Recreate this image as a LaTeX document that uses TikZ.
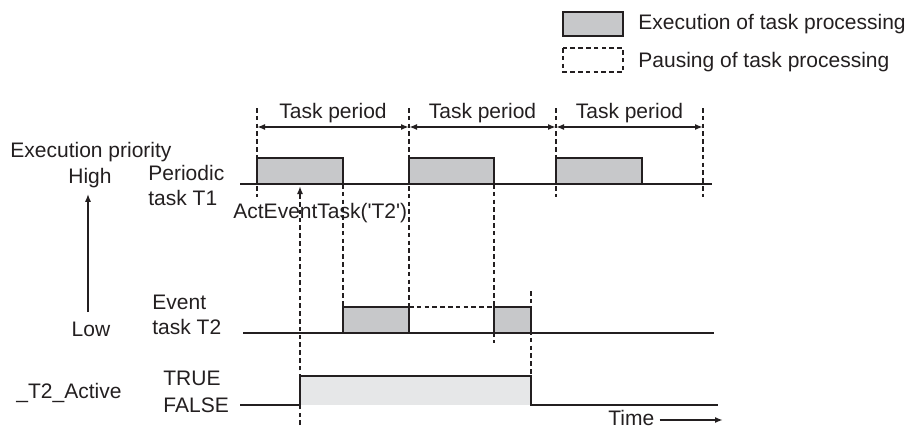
\documentclass[tikz,border=0pt]{standalone}
\usepackage{fontspec}
\setmainfont{Liberation Sans}
\usetikzlibrary{positioning,arrows.meta,calc}
\definecolor{cInk}{HTML}{231F20}
\definecolor{cRun}{HTML}{C7C8CA}
\definecolor{cActive}{HTML}{E6E7E8}

\tikzset{
  lbl/.style={inner sep=0pt,text=cInk,font=\fontsize{10.5}{12.5}\selectfont},
  track/.style={draw=cInk,line width=1.05pt},
  runbox/.style={draw=cInk,fill=cRun,line width=1.15pt},
  guide/.style={draw=cInk,line width=1pt,dash pattern=on 2.3pt off 1.6pt},
  tip/.style={-{Latex[length=4pt,width=3pt]}},
  period/.style={draw=cInk,line width=0.9pt,{Latex[length=4pt,width=3pt]}-{Latex[length=4pt,width=3pt]}}
}

\begin{document}
\begin{tikzpicture}[x=0.5pt,y=-0.5pt]
  \useasboundingbox (0,0) rectangle (911,428);

  % legend
  \draw[runbox] (563,12) rectangle (623,36);
  \node[lbl,anchor=base west] (legexec) at (638,30) {Execution of task processing};
  \draw[guide] (563,48) rectangle (623,72);
  \node[lbl,anchor=base west] (legpause) at (638,67) {Pausing of task processing};

  % priority axis
  \node[lbl,anchor=base west] (prio) at (10,157) {Execution priority};
  \node[lbl,anchor=base] (high) at (90,183) {High};
  \node[lbl,anchor=base] (low) at (91,336) {Low};
  \draw[cInk,line width=0.9pt,tip] ([xshift=-1.5pt,yshift=4.5pt]low.north) -- ([xshift=-1pt,yshift=-3pt]high.south);

  % row names
  \node[lbl,anchor=base west] (t1a) at (148,180) {Periodic};
  \node[lbl,anchor=base west] (t1b) at (148,205) {task T1};
  \node[lbl,anchor=base west] (t2a) at (152,309) {Event};
  \node[lbl,anchor=base west] (t2b) at (152,334) {task T2};
  \node[lbl,anchor=base west] (flag) at (16,398) {\_T2\_Active};
  \node[lbl,anchor=base west] (true) at (163,385) {TRUE};
  \node[lbl,anchor=base west] (false) at (163,412) {FALSE};

  % guides
  \foreach \x in {257,556,703}
    \draw[guide] (\x,108) -- (\x,197);
  \draw[guide] (409,108) -- (409,307);
  \draw[guide] (343,184) -- (343,307);
  \draw[guide] (494,184) -- (494,343);
  \draw[guide] (531,291) -- (531,376);

  % periodic task T1
  \draw[track] (240,184) -- (712,184);
  \foreach \a/\b in {257/343,409/494,556/642}
    \draw[runbox] (\a,184) rectangle (\b,158);

  % task periods
  \foreach \i/\x in {0/257,1/409,2/556,3/703}
    \coordinate (m\i) at (\x,127);
  \foreach \i/\j in {0/1,1/2,2/3}
    \draw[period] (m\i) -- (m\j) node[lbl,midway,anchor=base,yshift=4.5pt] (per\i) {Task period};

  % event task T2
  \draw[track] (243,333) -- (714,333);
  \draw[runbox] (343,333) rectangle (409,307);
  \draw[guide] (409,307) -- (494,307);
  \draw[runbox] (494,333) rectangle (531,307);

  % _T2_Active
  \fill[cActive] (300,405) rectangle (531,376);
  \draw[track] (240,405) -- (300,405) -- (300,376) -- (531,376) -- (531,405) -- (718,405);

  % activation
  \node[lbl,anchor=base west] (act) at (233,218) {ActEventTask(\textquotesingle T2\textquotesingle)};
  \coordinate (actbot) at (300,425);
  \coordinate (acttop) at (300,186);
  \draw[guide,tip] (actbot) -- (acttop);

  % time
  \node[lbl,anchor=base west] (time) at (608,425) {Time};
  \coordinate (tend) at (723,420);
  \draw[cInk,line width=0.9pt,tip] ([shift={(5,-5)}]time.base east) -- (tend);
\end{tikzpicture}
\end{document}
